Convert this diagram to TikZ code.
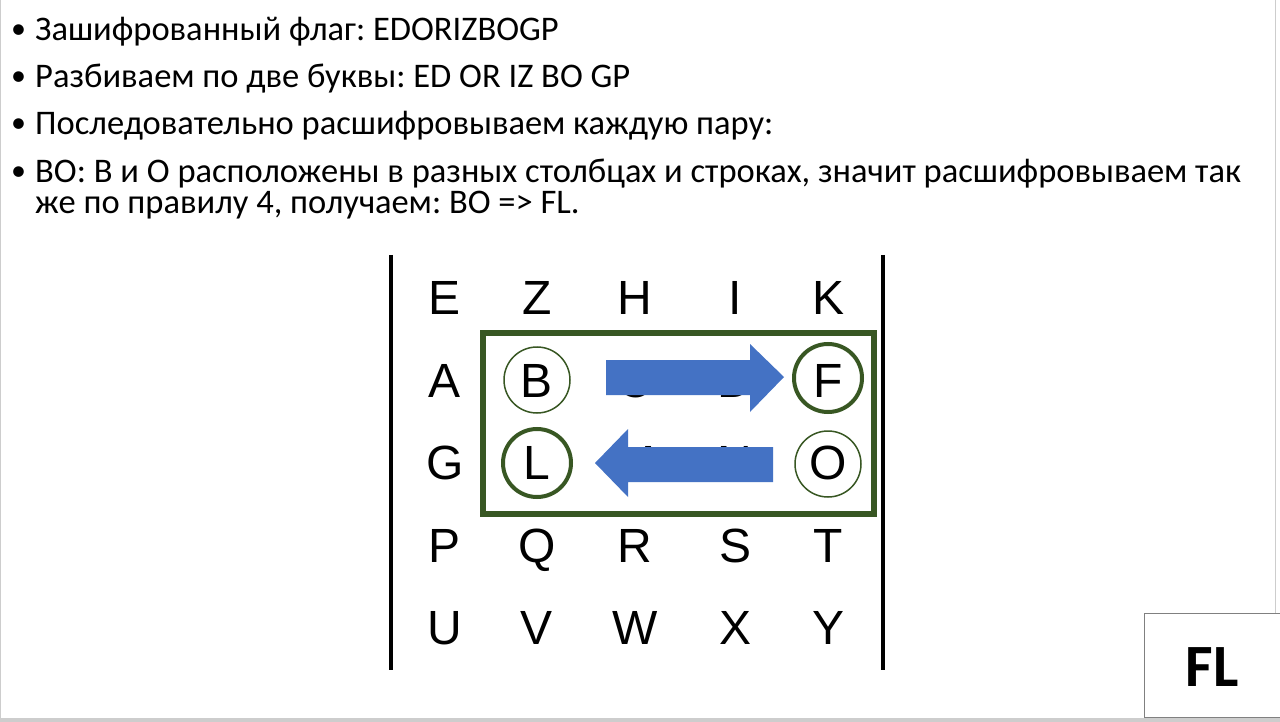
\documentclass[tikz,border=0pt]{standalone}
\usepackage{fontspec}
\setmainfont{Carlito}
\newfontfamily\gridfont{Liberation Sans}
\definecolor{dgreen}{RGB}{56,87,35}
\definecolor{oblue}{RGB}{68,114,196}
\definecolor{edgegray}{RGB}{205,205,205}
\frenchspacing
\begin{document}
\begin{tikzpicture}[x=1pt,y=-1pt,
  bullettext/.style={anchor=base west,inner sep=0,text depth=0pt,font=\fontsize{34.5}{41}\selectfont},
  bulletdot/.style={anchor=base west,inner sep=0,text depth=0pt,font=\fontsize{30}{41}\selectfont},
  letter/.style={anchor=base,inner sep=0,font=\gridfont\fontsize{48}{56}\selectfont},
  thincirc/.style={draw=dgreen,line width=1.5},
  thickcirc/.style={draw=dgreen,line width=4},
  blockarrow/.style={fill=oblue,draw=none}]
\useasboundingbox (0,0) rectangle (1280,722);
\fill[white] (0,0) rectangle (1280,722);
\draw[edgegray,line width=1] (0.5,0) -- (0.5,722);
\draw[edgegray,line width=1] (1275.5,0) -- (1275.5,613);
\draw[edgegray,line width=4] (0,720) -- (1280,720);
% bullet text
\node[bulletdot] (b1) at (11,39) {\textbullet};
\node[bullettext] (t1) at (35,41) {Зашифрованный флаг: EDORIZBOGP};
\node[bulletdot] (b2) at (11,86) {\textbullet};
\node[bullettext] (t2) at (35,88) {Разбиваем по две буквы: ED OR IZ BO GP};
\node[bulletdot] (b3) at (11,133) {\textbullet};
\node[bullettext] (t3) at (35,135) {Последовательно расшифровываем каждую пару:};
\node[bulletdot] (b4) at (11,181) {\textbullet};
\node[bullettext] (t4) at (35,183) {BO: B и O расположены в разных столбцах и строках, значит расшифровываем так};
\node[bullettext] (t5) at (35,214) {же по правилу 4, получаем: BO => FL.};
% matrix bars
\draw[line width=4] (391,255) -- (391,670);
\draw[line width=4] (883,255) -- (883,670);
% letters
\node[letter] (E) at (445,314) {E};
\node[letter] (Z) at (537,314) {Z};
\node[letter] (H) at (635,314) {H};
\node[letter] (I) at (735,314) {I};
\node[letter] (K) at (828,314) {K};
\node[letter] (A) at (445,397) {A};
\node[letter] (B) at (537,397) {B};
\node[letter] (C) at (635,397) {C};
\node[letter] (D) at (735,397) {D};
\node[letter] (F) at (828,397) {F};
\node[letter] (G) at (445,479) {G};
\node[letter] (L) at (537,479) {L};
\node[letter] (M) at (635,479) {M};
\node[letter] (N) at (735,479) {N};
\node[letter] (O) at (828,479) {O};
\node[letter] (P) at (445,562) {P};
\node[letter] (Q) at (537,562) {Q};
\node[letter] (R) at (635,562) {R};
\node[letter] (S) at (735,562) {S};
\node[letter] (T) at (828,562) {T};
\node[letter] (U) at (445,644) {U};
\node[letter] (V) at (537,644) {V};
\node[letter] (W) at (635,644) {W};
\node[letter] (X) at (735,644) {X};
\node[letter] (Y) at (828,644) {Y};
% green rectangle
\draw[dgreen,line width=6] (483,333) rectangle (874,514);
% circles
\draw[thincirc] (537,380) circle (33);
\draw[thickcirc] (828,378) circle (34);
\draw[thickcirc] (537,463) circle (34);
\draw[thincirc] (828,464) circle (33);
% arrows
\fill[blockarrow] (606,360) -- (750,360) -- (750,344) -- (784,377) -- (750,412) -- (750,395) -- (606,395) -- cycle;
\fill[blockarrow] (773,447) -- (628,447) -- (628,429) -- (595,463) -- (628,497) -- (628,482) -- (773,482) -- cycle;
% answer box
\draw[gray,line width=1] (1144.5,613) rectangle (1282,717);
\node[font=\bfseries\fontsize{60}{70}\selectfont,inner sep=0,anchor=base] (ans) at (1212,686) {FL};
\end{tikzpicture}
\end{document}
